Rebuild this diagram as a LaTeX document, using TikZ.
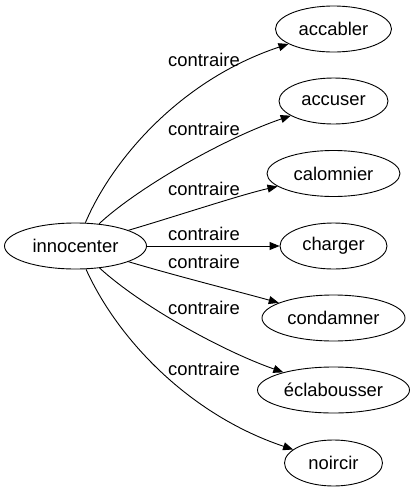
\documentclass[tikz,border=0pt]{standalone}
\usepackage{fontspec}
\setmainfont{Liberation Sans}
\usetikzlibrary{arrows.meta,shapes.geometric}
\begin{document}
\begin{tikzpicture}[x=1pt,y=-1pt,
  every node/.style={font=\fontsize{18.4}{22}\selectfont},
  word/.style={draw, ellipse, line width=0.9pt, inner sep=0pt, minimum height=46pt},
  lab/.style={inner sep=0pt},
  rel/.style={line width=0.9pt, -{Triangle[length=10pt,width=8pt]}}]
\useasboundingbox (0,0) rectangle (414,491);
\node[word, minimum width=142pt] (inn) at (75.5,246) {innocenter};
\node[word, minimum width=116pt] (acc) at (333.5,29) {accabler};
\node[word, minimum width=109pt] (accu) at (333.5,101) {accuser};
\node[word, minimum width=133pt] (cal) at (333.5,173.5) {calomnier};
\node[word, minimum width=107pt] (cha) at (333.5,246) {charger};
\node[word, minimum width=143pt] (con) at (333.5,318) {condamner};
\node[word, minimum width=152pt] (ecl) at (333.5,390) {éclabousser};
\node[word, minimum width=98pt] (noi) at (333.5,463) {noircir};
\node[lab] (l1) at (204,60) {contraire};
\node[lab] (l2) at (204,129) {contraire};
\node[lab] (l3) at (204,189) {contraire};
\node[lab] (l4) at (204,234) {contraire};
\node[lab] (l5) at (204,262) {contraire};
\node[lab] (l6) at (204,308) {contraire};
\node[lab] (l7) at (204,369) {contraire};
\draw[rel] (inn) .. controls (112,160) and (180,80) .. (acc);
\draw[rel] (inn) .. controls (135,190) and (220,140) .. (accu);
\draw[rel] (inn) .. controls (180,215) and (240,195) .. (cal);
\draw[rel] (inn) -- (cha);
\draw[rel] (inn) .. controls (180,277) and (240,292) .. (con);
\draw[rel] (inn) .. controls (140,305) and (220,350) .. (ecl);
\draw[rel] (inn) .. controls (118,340) and (190,415) .. (noi);
\end{tikzpicture}
\end{document}
